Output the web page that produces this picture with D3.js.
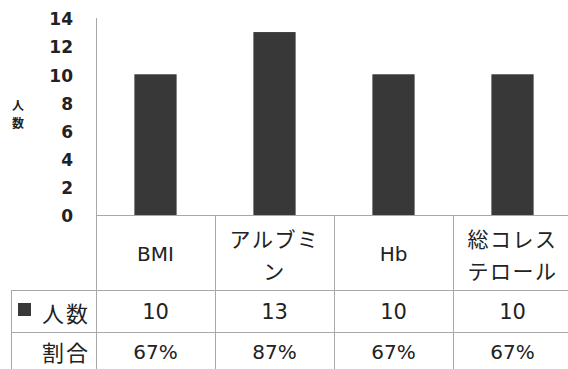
<!DOCTYPE html>
<html>
<head>
<meta charset="utf-8">
<script src="https://cdn.jsdelivr.net/npm/d3@7"></script>
<style>
  body { margin: 0; background: #fff; }
  svg { display: block; }
  text { fill: #222; }
</style>
</head>
<body>
<div id="chart"></div>
<script>
var categories = [['BMI'], ['アルブミ', 'ン'], ['Hb'], ['総コレス', 'テロール']];
var counts = [10, 13, 10, 10];
var ratios = ['67%', '87%', '67%', '67%'];
var yTicks = [0, 2, 4, 6, 8, 10, 12, 14];
var seriesName = '人数';
var ratioName = '割合';

var width = 568, height = 369;
var latin = '"DejaVu Sans", sans-serif';
var jp = '"Noto Sans CJK JP", sans-serif';

var svg = d3.select('#chart').append('svg').attr('width', width).attr('height', height);

var x = d3.scaleBand().domain(d3.range(categories.length)).range([96, 572]).padding(0);
var y = d3.scaleLinear().domain([0, 14]).range([215, 18]);
var barW = x.bandwidth() * 0.355;

var lineColor = '#a8a8a8';
var rowTop = 290, rowMid = 332, rowBot = 372;

// bars
svg.selectAll('rect.bar')
    .data(counts)
    .enter()
    .append('rect')
    .attr('class', 'bar')
    .attr('x', function (d, i) { return x(i) + (x.bandwidth() - barW) / 2; })
    .attr('y', function (d) { return y(d); })
    .attr('width', barW)
    .attr('height', function (d) { return y(0) - y(d); })
    .attr('fill', '#383838');

// y axis
var yAxis = svg.append('g')
    .attr('transform', 'translate(96,0)')
    .call(d3.axisLeft(y).tickValues(yTicks).tickSize(0).tickPadding(23));
yAxis.select('.domain').remove();
yAxis.selectAll('text')
    .attr('dy', '0.4em')
    .style('font-family', latin)
    .style('font-size', '17px')
    .style('font-weight', 'bold')
    .attr('fill', '#262626');

// axis + table lines
var lines = svg.append('g').attr('stroke', lineColor).attr('stroke-width', 1).attr('shape-rendering', 'crispEdges');
lines.append('line').attr('x1', 96.5).attr('x2', 96.5).attr('y1', y(14)).attr('y2', rowBot);
lines.append('line').attr('x1', 96).attr('x2', 572).attr('y1', y(0) + 0.5).attr('y2', y(0) + 0.5);
[rowTop, rowMid].forEach(function (yy) {
    lines.append('line').attr('x1', 11).attr('x2', 572).attr('y1', yy + 0.5).attr('y2', yy + 0.5);
});
lines.append('line').attr('x1', 11.5).attr('x2', 11.5).attr('y1', rowTop).attr('y2', rowBot);
d3.range(1, categories.length + 1).forEach(function (i) {
    var xx = Math.round(96 + i * x.step()) + 0.5;
    lines.append('line').attr('x1', xx).attr('x2', xx).attr('y1', y(0)).attr('y2', rowBot);
});

// y axis title (vertical)
svg.append('g').selectAll('text')
    .data(seriesName.split(''))
    .enter()
    .append('text')
    .attr('x', 18)
    .attr('y', function (d, i) { return 104 + i * 18; })
    .attr('text-anchor', 'middle')
    .attr('dominant-baseline', 'central')
    .style('font-family', jp)
    .style('font-size', '12px')
    .style('font-weight', 'bold')
    .text(function (d) { return d; });

// category header
var header = svg.append('g').selectAll('g')
    .data(categories)
    .enter()
    .append('g');
header.each(function (d, i) {
    var g = d3.select(this);
    var cx = x(i) + x.bandwidth() / 2;
    var mid = (y(0) + rowTop) / 2 + 1;
    d.forEach(function (t, j) {
        var isJp = /[^\x00-\x7f]/.test(t);
        g.append('text')
            .attr('x', cx)
            .attr('y', mid + (j - (d.length - 1) / 2) * 32)
            .attr('text-anchor', 'middle')
            .attr('dominant-baseline', 'central')
            .style('font-family', isJp ? jp : latin)
            .style('font-size', isJp ? '21px' : '20px')
            .style('letter-spacing', isJp ? '1.5px' : '0px')
            .text(t);
    });
});

// value rows
svg.append('g').selectAll('text')
    .data(counts)
    .enter()
    .append('text')
    .attr('x', function (d, i) { return x(i) + x.bandwidth() / 2; })
    .attr('y', (rowTop + rowMid) / 2 + 1)
    .attr('text-anchor', 'middle')
    .attr('dominant-baseline', 'central')
    .style('font-family', latin)
    .style('font-size', '21px')
    .text(function (d) { return d; });

svg.append('g').selectAll('text')
    .data(ratios)
    .enter()
    .append('text')
    .attr('x', function (d, i) { return x(i) + x.bandwidth() / 2; })
    .attr('y', 352)
    .attr('text-anchor', 'middle')
    .attr('dominant-baseline', 'central')
    .style('font-family', latin)
    .style('font-size', '20px')
    .text(function (d) { return d; });

// row labels
svg.append('rect').attr('x', 18).attr('y', 303).attr('width', 13).attr('height', 13).attr('fill', '#383838');
svg.append('text')
    .attr('x', 90).attr('y', (rowTop + rowMid) / 2 + 1)
    .attr('text-anchor', 'end').attr('dominant-baseline', 'central')
    .style('font-family', jp).style('font-size', '22px').style('letter-spacing', '2px')
    .text(seriesName);
svg.append('text')
    .attr('x', 90).attr('y', 351)
    .attr('text-anchor', 'end').attr('dominant-baseline', 'central')
    .style('font-family', jp).style('font-size', '22px').style('letter-spacing', '2px')
    .text(ratioName);
</script>
</body>
</html>
